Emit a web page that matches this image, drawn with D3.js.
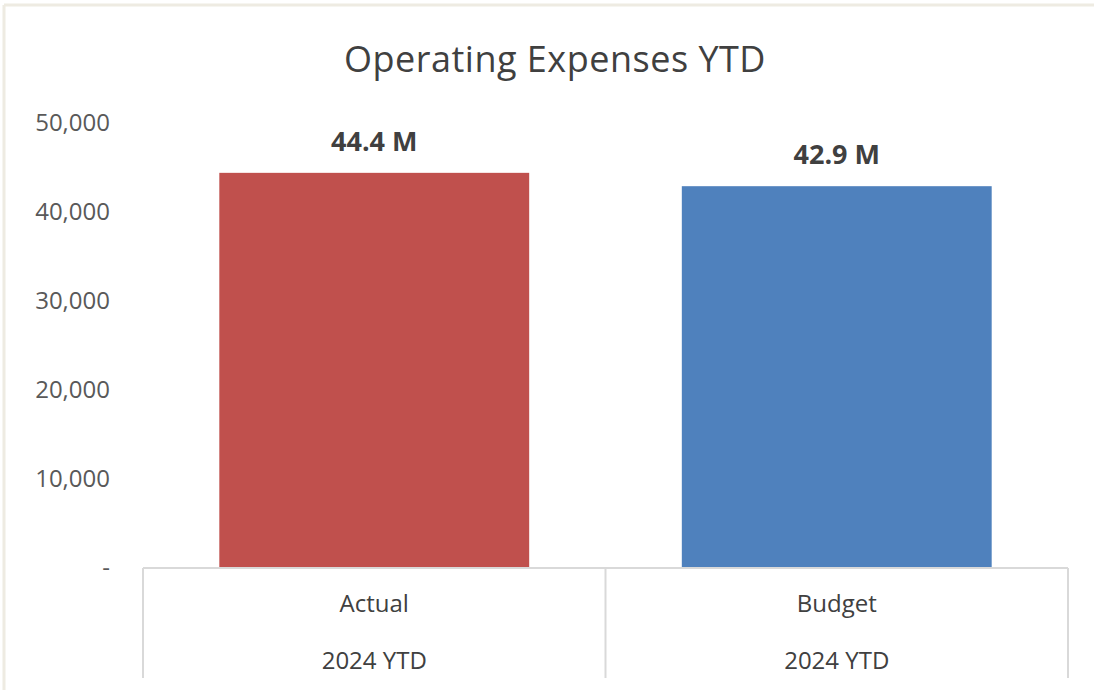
<!DOCTYPE html>
<html>
<head>
<meta charset="utf-8">
<script src="https://cdn.jsdelivr.net/npm/d3@7"></script>
<style>
  body { margin: 0; background: #fff; }
  text { font-family: "Open Sans", "Noto Sans", sans-serif; }
</style>
</head>
<body>
<script>
// chart data
const categories = ["Actual", "Budget"];
const groupLabels = ["2024 YTD", "2024 YTD"];
const values = [44400, 42900];
const valueLabels = ["44.4 M", "42.9 M"];
const barColors = ["#c0504d", "#4f81bd"];
const yTicks = [0, 10000, 20000, 30000, 40000, 50000];

const w = 1094, h = 690;

let svg = d3.select('body')
            .append('svg')
            .attr('width', w)
            .attr('height', h);

// outer frame (top + left only visible)
svg.append('line').attr('x1', 4).attr('x2', w).attr('y1', 5).attr('y2', 5)
  .attr('stroke', '#eeebe2').attr('stroke-width', 3);
svg.append('line').attr('x1', 4).attr('x2', 4).attr('y1', 5).attr('y2', h)
  .attr('stroke', '#eeebe2').attr('stroke-width', 3);

svg.append('text')
  .attr('x', 555).attr('y', 72)
  .attr('text-anchor', 'middle')
  .attr('font-size', 36)
  .attr('letter-spacing', 0.5)
  .attr('fill', '#404040')
  .text('Operating Expenses YTD');

const plotLeft = 143, plotRight = 1068;
const y = d3.scaleLinear().domain([0, 50000]).range([568, 123]);
const x = d3.scaleBand().domain(categories).range([plotLeft, plotRight]).paddingInner(0.33).paddingOuter(0.165);
const xg = d3.scaleBand().domain(categories).range([plotLeft, plotRight]);

// y axis labels
const yAxis = d3.axisLeft(y).tickValues(yTicks).tickSize(0)
  .tickFormat(d => d === 0 ? '-' : d3.format(',')(d));
const ya = svg.append('g').attr('transform', 'translate(113,0)').call(yAxis);
ya.select('.domain').remove();
ya.selectAll('text').attr('font-size', 24).attr('fill', '#595959')
  .attr('font-family', '"Open Sans", sans-serif');

// bars
svg.selectAll('rect.bar')
  .data(values)
  .enter()
    .append('rect')
    .attr('class', 'bar')
    .attr('x', (d, i) => x(categories[i]))
    .attr('y', d => y(d))
    .attr('width', x.bandwidth())
    .attr('height', d => y(0) - y(d))
    .attr('fill', (d, i) => barColors[i]);

// value labels
svg.selectAll('text.val')
  .data(values)
  .enter()
    .append('text')
    .attr('class', 'val')
    .attr('x', (d, i) => x(categories[i]) + x.bandwidth() / 2)
    .attr('y', d => y(d) - 22)
    .attr('text-anchor', 'middle')
    .attr('font-size', 27)
    .attr('font-weight', 'bold')
    .attr('fill', '#404040')
    .text((d, i) => valueLabels[i]);

// category axis grid
const gridColor = '#d9d9d9';
svg.append('line').attr('x1', plotLeft).attr('x2', plotRight)
  .attr('y1', y(0)).attr('y2', y(0))
  .attr('stroke', gridColor).attr('stroke-width', 2);
const dividers = [plotLeft].concat(categories.map(c => xg(c) + xg.bandwidth()));
svg.selectAll('line.div')
  .data(dividers)
  .enter()
    .append('line')
    .attr('class', 'div')
    .attr('x1', d => d).attr('x2', d => d)
    .attr('y1', y(0)).attr('y2', 678)
    .attr('stroke', gridColor).attr('stroke-width', 2);

svg.selectAll('text.cat')
  .data(categories)
  .enter()
    .append('text')
    .attr('class', 'cat')
    .attr('x', d => xg(d) + xg.bandwidth() / 2)
    .attr('y', 612)
    .attr('text-anchor', 'middle')
    .attr('font-size', 24)
    .attr('fill', '#404040')
    .text(d => d);

svg.selectAll('text.grp')
  .data(groupLabels)
  .enter()
    .append('text')
    .attr('class', 'grp')
    .attr('x', (d, i) => xg(categories[i]) + xg.bandwidth() / 2)
    .attr('y', 669)
    .attr('text-anchor', 'middle')
    .attr('font-size', 24)
    .attr('fill', '#404040')
    .text(d => d);
</script>
</body>
</html>
